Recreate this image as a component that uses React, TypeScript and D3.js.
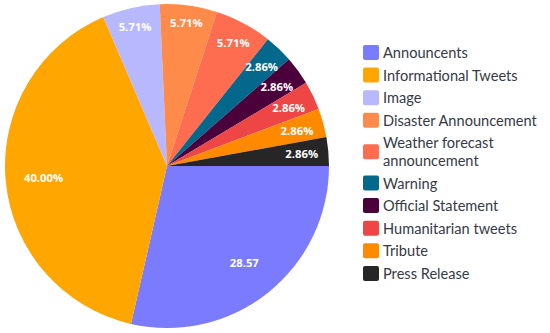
import React, { useEffect, useRef } from 'react';
import * as d3 from 'd3';

const width = 550,
      height = 333;

const categories = [
    'Announcents', 'Informational Tweets', 'Image', 'Disaster Announcement',
    'Weather forecast announcement', 'Warning', 'Official Statement',
    'Humanitarian tweets', 'Tribute', 'Press Release',
];
const shares = [28.57, 40.0, 5.71, 5.71, 5.71, 2.86, 2.86, 2.86, 2.86, 2.86];
const sliceLabels = ['28.57', '40.00%', '5.71%', '5.71%', '5.71%', '2.86%', '2.86%', '2.86%', '2.86%', '2.86%'];
const colors = [
    '#7a7bff', '#ffa600', '#b8b8ff', '#ff8b4b', '#ff6d50',
    '#04678c', '#4b003c', '#ee4545', '#ff8a00', '#262626',
];
// legend lines (long names wrap)
const legendLines = [
    ['Announcents'], ['Informational Tweets'], ['Image'], ['Disaster Announcement'],
    ['Weather forecast', 'announcement'], ['Warning'], ['Official Statement'],
    ['Humanitarian tweets'], ['Tribute'], ['Press Release'],
];

const App = () => {
    const ref = useRef<SVGSVGElement>(null);

    useEffect(() => {
        const svg = d3.select(ref.current);
        svg.html('');

        const cx = 167, cy = 166, radius = 162;
        const g = svg.append('g').attr('transform', `translate(${cx},${cy})`);

        const pie = d3.pie<number>().sort(null).value(d => d)
            .startAngle(Math.PI / 2).endAngle(Math.PI / 2 + 2 * Math.PI);
        const arcs = pie(shares);
        const path = d3.arc<d3.PieArcDatum<number>>().outerRadius(radius).innerRadius(0);

        g.selectAll('path.slice')
            .data(arcs)
            .enter().append('path')
            .attr('class', 'slice')
            .attr('d', path)
            .attr('fill', (d, i) => colors[i]);

        g.selectAll('text.lbl')
            .data(arcs)
            .enter().append('text')
            .attr('class', 'lbl')
            .text((d, i) => sliceLabels[i])
            .attr('text-anchor', 'middle')
            .attr('dominant-baseline', 'central')
            .attr('font-family', 'Open Sans, sans-serif')
            .attr('font-weight', 'bold')
            .attr('font-size', 11.3)
            .attr('fill', '#fff')
            .attr('transform', function (d) {
                const a = (d.startAngle + d.endAngle) / 2;
                let r;
                if (d.value > 20) {
                    r = radius * 0.765;
                } else {
                    const w = (this as SVGTextElement).getComputedTextLength();
                    r = radius - 10 - Math.abs(Math.sin(a)) * w / 2 - Math.abs(Math.cos(a)) * 5;
                }
                return `translate(${Math.sin(a) * r},${-Math.cos(a) * r})`;
            });

        // legend
        const lx = 363, pitch = 22.6, lineSpacing = 17.5;
        let y = 52.5;
        const legend = svg.append('g');
        legendLines.forEach((lines, i) => {
            const mid = y + (lines.length - 1) * lineSpacing / 2;
            legend.append('rect')
                .attr('x', lx).attr('y', mid - 7.5)
                .attr('width', 16).attr('height', 15)
                .attr('rx', 2)
                .attr('fill', colors[i]);
            lines.forEach((t, j) => {
                legend.append('text')
                    .attr('x', lx + 20)
                    .attr('y', mid + (j - (lines.length - 1) / 2) * lineSpacing)
                    .attr('dominant-baseline', 'central')
                    .attr('font-family', 'Lato, sans-serif')
                    .attr('font-size', 14.6)
                    .attr('fill', '#343a46')
                    .text(t);
            });
            y += pitch + (lines.length - 1) * lineSpacing;
        });
    }, []);

    return (
        <svg ref={ref} width={width} height={height}
            style={{ position: 'absolute', left: 0, top: 0, background: '#fff' }}>
        </svg>
    );
};

export default App;
